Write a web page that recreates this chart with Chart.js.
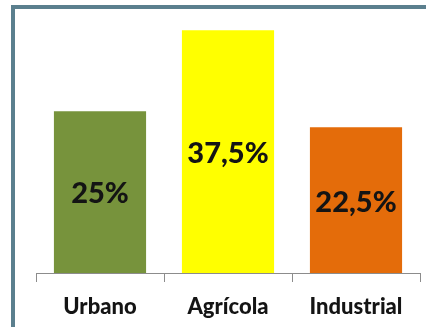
<!DOCTYPE html>
<html>
<head>
<meta charset="utf-8">
<script src="https://cdn.jsdelivr.net/npm/chart.js@4.4.1/dist/chart.umd.min.js"></script>
<style>
  html, body { margin: 0; padding: 0; background: #ffffff; overflow: hidden; }
  #wrap { position: relative; width: 426px; height: 327px; }
  #frame { position: absolute; left: 11px; top: 5px; width: 420px; height: 330px;
           border-left: 4px solid #5b7f8e; border-top: 4px solid #5b7f8e; box-sizing: border-box; pointer-events: none; }
  canvas { position: absolute; left: 0; top: 0; }
</style>
</head>
<body>
<div id="wrap">
  <canvas id="c" width="426" height="327"></canvas>
  <div id="frame"></div>
</div>
<script>
const categories = ['Urbano', 'Agrícola', 'Industrial'];
const shares = [25, 37.5, 22.5];
const barColors = ['#77933c', '#ffff00', '#e46c0a'];

const valueLabels = {
  id: 'valueLabels',
  afterDatasetsDraw(chart) {
    const ctx = chart.ctx;
    const meta = chart.getDatasetMeta(0);
    ctx.save();
    ctx.font = '900 29px Lato';
    ctx.fillStyle = '#141414';
    ctx.textAlign = 'center';
    ctx.textBaseline = 'middle';
    meta.data.forEach((bar, i) => {
      const v = chart.data.datasets[0].data[i];
      const txt = String(v).replace('.', ',') + '%';
      const cy = (bar.y + bar.base) / 2;
      ctx.fillText(txt, bar.x, cy + 2);
    });
    ctx.restore();
  }
};

new Chart(document.getElementById('c'), {
  type: 'bar',
  data: {
    labels: categories,
    datasets: [{
      data: shares,
      backgroundColor: barColors,
      borderWidth: 0,
      barPercentage: 0.72,
      categoryPercentage: 1
    }]
  },
  options: {
    responsive: false,
    animation: false,
    devicePixelRatio: 1,
    layout: { padding: { left: 36, right: 6, top: 14, bottom: 0 } },
    plugins: { legend: { display: false }, tooltip: { enabled: false } },
    scales: {
      x: {
        grid: { offset: true, drawOnChartArea: false, drawTicks: true, tickLength: 9, color: '#8c8c8c', lineWidth: 1 },
        border: { display: true, color: '#8c8c8c', width: 1 },
        ticks: { font: { family: 'Lato', weight: '900', size: 22 }, color: '#141414', padding: 12, maxRotation: 0 },
        afterFit(scale) { scale.height = 54; }
      },
      y: {
        display: false,
        min: 0,
        max: 40
      }
    }
  },
  plugins: [valueLabels]
});
</script>
</body>
</html>
